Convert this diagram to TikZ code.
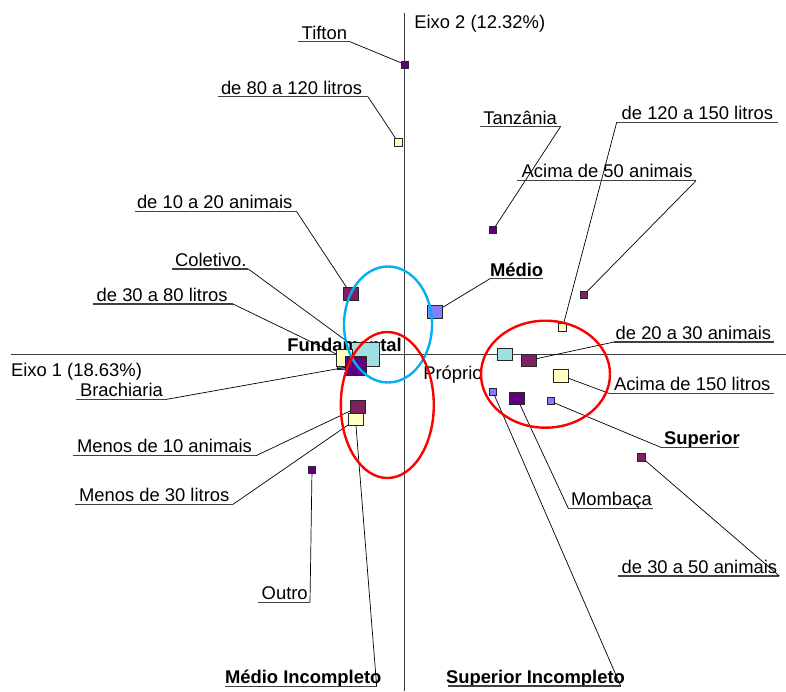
\documentclass[tikz,border=0pt]{standalone}
\usepackage{fontspec}
\setmainfont{Liberation Sans}
\definecolor{cPur}{RGB}{96,0,128}
\definecolor{cMar}{RGB}{128,32,96}
\definecolor{cYel}{RGB}{255,255,192}
\definecolor{cPer}{RGB}{128,128,255}
\definecolor{cCya}{RGB}{160,224,224}
\definecolor{cBlu}{RGB}{0,176,240}
\definecolor{cAx}{RGB}{64,64,64}
\begin{document}
\begin{tikzpicture}[x=1pt,y=-1pt,
  lab/.style={anchor=base west, inner sep=0pt, outer sep=0pt, font=\fontsize{18.4}{20}\selectfont},
  blab/.style={lab, font=\fontsize{18.4}{20}\selectfont\bfseries},
  sq/.style={draw=black!85, line width=0.7pt, inner sep=0pt, outer sep=0pt},
  sqs/.style={sq, minimum size=7pt},
  ul/.style={draw=black!75, line width=1.3pt},
  lead/.style={draw=black, line width=0.7pt},
  axis/.style={draw=cAx, line width=1pt},
  ell/.style={line width=2.4pt}]
\useasboundingbox (0,0) rectangle (786,691);
% axes
\coordinate (vtop) at (404.5,13);
\coordinate (vbot) at (404.5,691);
\coordinate (hl) at (11,354);
\coordinate (hr) at (786,354);
\draw[axis] (vtop) -- (vbot);
\draw[axis] (hl) -- (hr);
\node[lab] (eixo2) at (414.3,28.3) {Eixo 2 (12.32\%)};
\node[lab] (eixo1) at (11,376.5) {Eixo 1 (18.63\%)};
\node[blab] (fund) at (287.3,351.7) {Fundamental};
\node[lab] (prop) at (423.3,379.7) {Próprio};
% squares
\node[sqs, fill=cPur] (tif) at (405,64.5) {};
\node[sqs, fill=cYel, minimum size=8pt] (y80) at (398,142) {};
\node[sqs, fill=cPur] (tan) at (493,230) {};
\node[sqs, fill=cMar] (m50) at (583.7,295) {};
\node[sqs, fill=cYel, minimum size=8pt] (y120) at (562.7,327) {};
\node[sq, fill=cMar, minimum width=14.5pt, minimum height=13pt] (m1020) at (350.7,293.7) {};
\node[sq, fill=cPer, minimum width=14.5pt, minimum height=13pt] (medio) at (435,312) {};
\node[sq, fill=cCya, minimum width=28pt, minimum height=24pt] (col) at (365,354.5) {};
\node[sq, fill=cPer, minimum size=16pt] (fper) at (345,361) {};
\node[sq, fill=cYel, minimum width=15.5pt, minimum height=17pt] (y3080) at (344.5,358) {};
\node[sq, fill=cPur, minimum width=21.5pt, minimum height=19pt] (brach) at (356,365.5) {};
\node[sq, fill=cMar, minimum width=14.5pt, minimum height=13pt] (m10) at (358,407.3) {};
\node[sq, fill=cYel, minimum width=15pt, minimum height=12.5pt] (y30) at (356,419.5) {};
\node[sqs, fill=cPur, minimum size=7.5pt] (outro) at (312,469.7) {};
\node[sq, fill=cCya, minimum width=15pt, minimum height=12.5pt] (prop sq) at (505,354.5) {};
\node[sq, fill=cMar, minimum width=15pt, minimum height=12.5pt] (m2030) at (529,360.3) {};
\node[sq, fill=cYel, minimum width=15pt, minimum height=13pt] (y150) at (561,375.5) {};
\node[sqs, fill=cPer] (supinc) at (493,392) {};
\node[sq, fill=cPur, minimum width=15.5pt, minimum height=12.5pt] (mom) at (517,398.2) {};
\node[sqs, fill=cPer] (sup) at (550.5,401.3) {};
\node[sqs, fill=cMar, minimum size=8pt] (m3050) at (641.7,457.5) {};
% labels with underline and leader
\node[lab] (tTif) at (301.7,39) {Tifton};
\coordinate (uTifA) at (298,41.7); \coordinate (uTifB) at (350,41.7);
\draw[ul] (uTifA) -- (uTifB); \draw[lead] (uTifB) -- (tif);

\node[lab] (t80) at (221,94) {de 80 a 120 litros};
\coordinate (u80A) at (218,96.7); \coordinate (u80B) at (368,96.7);
\draw[ul] (u80A) -- (u80B); \draw[lead] (u80B) -- (y80);

\node[lab] (tTan) at (483.3,124) {Tanzânia};
\coordinate (uTanA) at (480,126.7); \coordinate (uTanB) at (560.5,126.7);
\draw[ul] (uTanA) -- (uTanB); \draw[lead] (uTanB) -- (tan);

\node[lab] (t120) at (621.7,119.3) {de 120 a 150 litros};
\coordinate (u120A) at (616.7,122.3); \coordinate (u120B) at (777.7,122.3);
\draw[ul] (u120A) -- (u120B); \draw[lead] (u120A) -- (y120);

\node[lab] (t50) at (521.7,177.7) {Acima de 50 animais};
\coordinate (u50A) at (516.7,180.7); \coordinate (u50B) at (696,180.7);
\draw[ul] (u50A) -- (u50B); \draw[lead] (u50B) -- (m50);

\node[lab] (t1020) at (137,208.7) {de 10 a 20 animais};
\coordinate (u1020A) at (135,211.7); \coordinate (u1020B) at (296.7,211.7);
\draw[ul] (u1020A) -- (u1020B); \draw[lead] (u1020B) -- (m1020);

\node[lab] (tCol) at (175,266) {Coletivo.};
\coordinate (uColA) at (171.7,269); \coordinate (uColB) at (248.3,269);
\draw[ul] (uColA) -- (uColB); \draw[lead] (uColB) -- (col);

\node[lab] (t3080) at (96.7,301) {de 30 a 80 litros};
\coordinate (u3080A) at (93,304); \coordinate (u3080B) at (233,304);
\draw[ul] (u3080A) -- (u3080B); \draw[lead] (u3080B) -- (y3080);

\node[blab] (tMed) at (490,276) {Médio};
\coordinate (uMedA) at (490,278.7); \coordinate (uMedB) at (543,278.7);
\draw[ul] (uMedA) -- (uMedB); \draw[lead] (uMedA) -- (medio);

\node[lab] (tBra) at (80,396) {Brachiaria};
\coordinate (uBraA) at (76,399.3); \coordinate (uBraB) at (166.7,399.3);
\draw[ul] (uBraA) -- (uBraB); \draw[lead] (uBraB) -- (brach);

\node[lab] (t10) at (77,452.7) {Menos de 10 animais};
\coordinate (u10A) at (73,455.7); \coordinate (u10B) at (256,455.7);
\draw[ul] (u10A) -- (u10B); \draw[lead] (u10B) -- (m10);

\node[lab] (t30) at (79,501.3) {Menos de 30 litros};
\coordinate (u30A) at (75,504.3); \coordinate (u30B) at (233,504.3);
\draw[ul] (u30A) -- (u30B); \draw[lead] (u30B) -- (y30);

\node[lab] (tOut) at (261.7,599.3) {Outro};
\coordinate (uOutA) at (258,602.3); \coordinate (uOutB) at (310,602.3);
\draw[ul] (uOutA) -- (uOutB); \draw[lead] (uOutB) -- (outro);

\node[blab] (tMI) at (225,683.5) {Médio Incompleto};
\coordinate (uMIA) at (225,686.7); \coordinate (uMIB) at (376.7,686.7);
\draw[ul] (uMIA) -- (uMIB); \draw[lead] (uMIB) -- (y30.south);

\node[blab] (tSI) at (446,683) {Superior Incompleto};
\coordinate (uSIA) at (448,686); \coordinate (uSIB) at (620.7,686);
\draw[ul] (uSIA) -- (uSIB); \draw[lead] (uSIB) -- (supinc);

\node[lab] (t2030) at (615.7,339) {de 20 a 30 animais};
\coordinate (u2030A) at (614,342); \coordinate (u2030B) at (774,342);
\draw[ul] (u2030A) -- (u2030B); \draw[lead] (u2030A) -- (m2030);

\node[lab] (t150) at (614,390.3) {Acima de 150 litros};
\coordinate (u150A) at (609,393.3); \coordinate (u150B) at (774,393.3);
\draw[ul] (u150A) -- (u150B); \draw[lead] (u150A) -- (y150);

\node[blab] (tSup) at (664,444.7) {Superior};
\coordinate (uSupA) at (661.7,447.7); \coordinate (uSupB) at (739.3,447.7);
\draw[ul] (uSupA) -- (uSupB); \draw[lead] (uSupA) -- (sup);

\node[lab] (tMom) at (571,505.3) {Mombaça};
\coordinate (uMomA) at (568.3,508.3); \coordinate (uMomB) at (653.3,508.3);
\draw[ul] (uMomA) -- (uMomB); \draw[lead] (uMomA) -- (mom);

\node[lab] (t3050) at (621.7,573) {de 30 a 50 animais};
\coordinate (u3050A) at (618.3,576); \coordinate (u3050B) at (779.3,576);
\draw[ul] (u3050A) -- (u3050B); \draw[lead] (u3050B) -- (m3050);
% ellipses
\draw[ell, draw=cBlu] (388,324.5) ellipse [x radius=44pt, y radius=58pt];
\draw[ell, draw=red] (387.3,405) ellipse [x radius=46.5pt, y radius=73pt];
\draw[ell, draw=red] (545.5,374.2) ellipse [x radius=64.5pt, y radius=53.5pt];
\end{tikzpicture}
\end{document}
